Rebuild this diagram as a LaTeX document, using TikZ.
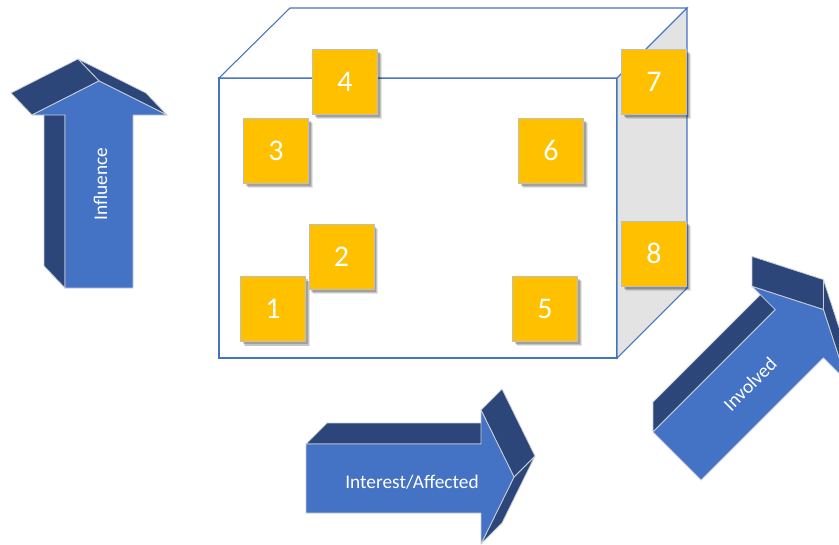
\documentclass[tikz,border=0pt]{standalone}
\usepackage{fontspec}
\setmainfont{Carlito}
\usetikzlibrary{shadows}
\definecolor{blueF}{HTML}{4472C4}
\definecolor{blueD}{HTML}{2C4679}
\definecolor{facestroke}{HTML}{C9CDD6}
\definecolor{boxline}{HTML}{4472C4}
\definecolor{sidegray}{HTML}{E3E3E3}
\definecolor{sqfill}{HTML}{FFC000}
\definecolor{sqborder}{HTML}{BFBFBF}
\begin{document}
\begin{tikzpicture}[x=0.75pt,y=-0.75pt,
  boxedge/.style={draw=boxline, line width=0.8pt, line join=miter},
  darkface/.style={fill=blueD, draw=facestroke, line width=0.6pt, line join=round},
  frontface/.style={fill=blueF, draw=facestroke, line width=0.6pt, line join=round},
  sq/.style={draw=sqborder, line width=0.6pt, fill=sqfill, minimum size=48.75pt, inner sep=0pt,
    text=white, font=\fontsize{22.5}{22.5}\selectfont,
    drop shadow={shadow xshift=3.2pt, shadow yshift=-3.6pt, opacity=0.10, fill=black},
    drop shadow={shadow xshift=2.6pt, shadow yshift=-3pt, opacity=0.14, fill=black},
    drop shadow={shadow xshift=1.8pt, shadow yshift=-2.2pt, opacity=0.18, fill=black}},
  lbl/.style={text=white, font=\fontsize{14.5}{15}\selectfont, inner sep=0pt}]
\useasboundingbox (0,0) rectangle (839,544);
\clip (0,0) rectangle (839,544);

% ---- box ----
\draw[boxedge, fill=white] (219,78) rectangle (617,358);
\draw[boxedge, fill=white] (219,78) -- (290,8) -- (687,8) -- (617,78) -- cycle;
\draw[boxedge, fill=sidegray] (617,78) -- (687,8) -- (687,288) -- (617,358) -- cycle;

% ---- squares ----
\node[sq] (s1) at (273,309) {1};
\node[sq] (s2) at (341.5,256.5) {2};
\node[sq] (s3) at (276,150.5) {3};
\node[sq] (s4) at (345,81.5) {4};
\node[sq] (s5) at (545,308.5) {5};
\node[sq] (s6) at (551,150.5) {6};
\node[sq] (s7) at (654,81.5) {7};
\node[sq] (s8) at (654,253.5) {8};

% ---- Influence arrow (up) ----
\path[darkface] (65,115) -- (65,288) -- (44,266) -- (44,93) -- cycle;
\path[darkface] (99,81) -- (167,115) -- (146,93) -- (78,59) -- cycle;
\path[darkface] (32,115) -- (99,81) -- (78,59) -- (11,93) -- cycle;
\path[frontface] (65,288) -- (133,288) -- (133,115) -- (167,115) -- (99,81) -- (32,115) -- (65,115) -- cycle;
\node[lbl, rotate=90] (influence) at (100.5,184) {Influence};

% ---- Interest/Affected arrow (right) ----
\path[darkface] (306,444) -- (481,444) -- (502,423) -- (327,423) -- cycle;
\path[darkface] (514,477) -- (481,544) -- (502,523) -- (535,456) -- cycle;
\path[darkface] (481,410) -- (514,477) -- (535,456) -- (502,389) -- cycle;
\path[frontface] (306,444) -- (481,444) -- (481,410) -- (514,477) -- (481,544) -- (481,513) -- (306,513) -- cycle;
\node[lbl] (interest) at (412,482) {Interest/Affected};

% ---- Involved arrow (diagonal) ----
\path[darkface] (653,432) -- (775.3,309.7) -- (775.3,279.7) -- (653,402) -- cycle;
\path[darkface] (752,286.4) -- (823.4,309.6) -- (823.4,279.6) -- (752,256.4) -- cycle;
\path[darkface] (823.4,309.6) -- (846.7,381.1) -- (846.7,351.1) -- (823.4,279.6) -- cycle;
\path[frontface] (653,432) -- (701.1,480.1) -- (823.4,357.8) -- (846.7,381.1) -- (823.4,309.6) -- (752,286.4) -- (775.3,309.7) -- cycle;
\node[lbl, rotate=45] (involved) at (750,384) {Involved};
\end{tikzpicture}
\end{document}
